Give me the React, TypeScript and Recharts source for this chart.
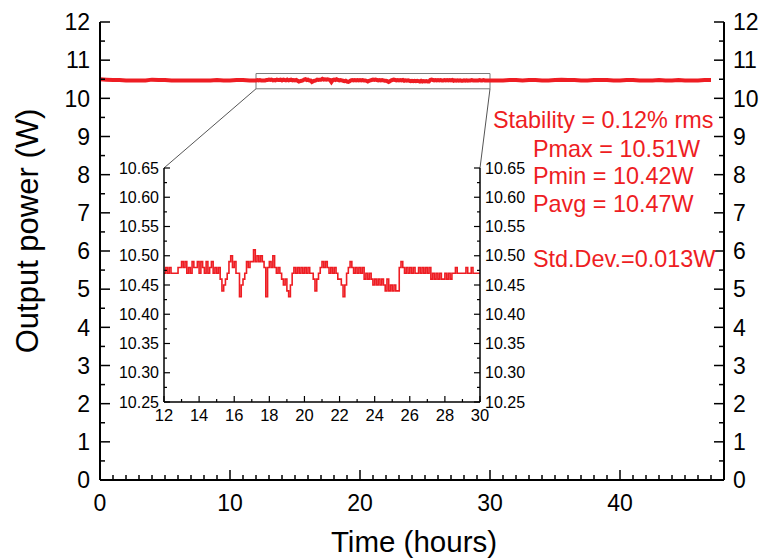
import React from 'react';
import { LineChart, Line, XAxis, YAxis, ReferenceArea } from 'recharts';

const FONT = '"Liberation Sans", Arial, Helvetica, sans-serif';
const RED = '#EE1D23';

// ---- data (hours, W) ----
const PRE_START = 0;
const PRE_STEP = 0.5;
const preValues = [
  10.50, 10.49, 10.48, 10.48, 10.47, 10.47, 10.47, 10.47, 10.49, 10.48, 10.48, 10.47,
  10.47, 10.47, 10.47, 10.47, 10.47, 10.47, 10.48, 10.47, 10.47, 10.48, 10.48, 10.47,
];

const INSET_START = 12;
const INSET_STEP = 0.1;
const insetValues = [
  10.47, 10.48, 10.47, 10.48, 10.47, 10.47, 10.47, 10.47, 10.48, 10.48, // 12
  10.49, 10.48, 10.49, 10.47, 10.48, 10.47, 10.49, 10.48, 10.48, 10.49, // 13
  10.47, 10.49, 10.48, 10.47, 10.49, 10.47, 10.48, 10.49, 10.47, 10.48, // 14
  10.47, 10.48, 10.46, 10.44, 10.45, 10.46, 10.47, 10.49, 10.50, 10.48, // 15
  10.49, 10.47, 10.47, 10.43, 10.45, 10.46, 10.47, 10.49, 10.48, 10.49, // 16
  10.49, 10.51, 10.49, 10.50, 10.49, 10.50, 10.49, 10.48, 10.43, 10.48, // 17
  10.49, 10.48, 10.50, 10.48, 10.47, 10.48, 10.47, 10.46, 10.45, 10.46, // 18
  10.44, 10.43, 10.45, 10.47, 10.48, 10.47, 10.48, 10.47, 10.48, 10.47, // 19
  10.48, 10.47, 10.48, 10.47, 10.47, 10.46, 10.44, 10.46, 10.47, 10.48, // 20
  10.49, 10.48, 10.49, 10.48, 10.47, 10.48, 10.47, 10.48, 10.47, 10.46, // 21
  10.46, 10.45, 10.43, 10.45, 10.47, 10.48, 10.49, 10.48, 10.47, 10.48, // 22
  10.47, 10.48, 10.47, 10.48, 10.46, 10.47, 10.46, 10.47, 10.46, 10.45, // 23
  10.46, 10.45, 10.46, 10.45, 10.46, 10.45, 10.44, 10.46, 10.44, 10.45, // 24
  10.44, 10.45, 10.44, 10.44, 10.48, 10.49, 10.48, 10.47, 10.48, 10.47, // 25
  10.48, 10.47, 10.48, 10.47, 10.47, 10.48, 10.47, 10.48, 10.47, 10.48, // 26
  10.47, 10.48, 10.46, 10.47, 10.46, 10.47, 10.46, 10.47, 10.46, 10.46, // 27
  10.47, 10.46, 10.47, 10.46, 10.47, 10.47, 10.48, 10.47, 10.47, 10.47, // 28
  10.47, 10.47, 10.48, 10.47, 10.47, 10.48, 10.47, 10.47, 10.47, 10.47, // 29
  10.47, // 30
];

const POST_START = 30.5;
const POST_STEP = 0.5;
const postValues = [
  10.47, 10.47, 10.48, 10.48, 10.47, 10.48, 10.48, 10.47, 10.47, 10.48, 10.49, 10.48,
  10.48, 10.47, 10.47, 10.48, 10.48, 10.48, 10.47, 10.47, 10.48, 10.48, 10.47, 10.47,
  10.47, 10.48, 10.47, 10.47, 10.48, 10.47, 10.47, 10.47, 10.48, 10.48,
];

// ---- axes ----
const MAIN_X_DOMAIN = [0, 48];
const MAIN_X_MAJOR = [0, 10, 20, 30, 40];
const MAIN_X_TICKS = Array.from({ length: 48 }, (_, i) => i);
const MAIN_Y_DOMAIN = [0, 12];
const MAIN_Y_MAJOR = [0, 1, 2, 3, 4, 5, 6, 7, 8, 9, 10, 11, 12];
const MAIN_Y_TICKS = Array.from({ length: 25 }, (_, i) => i * 0.5);

const INSET_X_DOMAIN = [12, 30];
const INSET_X_MAJOR = [12, 14, 16, 18, 20, 22, 24, 26, 28, 30];
const INSET_X_TICKS = Array.from({ length: 19 }, (_, i) => 12 + i);
const INSET_Y_DOMAIN = [10.25, 10.65];
const INSET_Y_MAJOR = [10.25, 10.3, 10.35, 10.4, 10.45, 10.5, 10.55, 10.6, 10.65];
const INSET_Y_TICKS = Array.from({ length: 17 }, (_, i) => +(10.25 + i * 0.025).toFixed(3));

const X_TITLE = 'Time (hours)';
const Y_TITLE = 'Output power (W)';
const ANNOTATIONS = [
  { text: 'Stability = 0.12% rms', x: 493, y: 128 },
  { text: 'Pmax = 10.51W', x: 533, y: 157 },
  { text: 'Pmin = 10.42W', x: 533, y: 184 },
  { text: 'Pavg = 10.47W', x: 533, y: 212 },
  { text: 'Std.Dev.=0.013W', x: 533, y: 267 },
];

const toSeries = (start: number, step: number, vals: number[]) =>
  vals.map((p, i) => ({ t: +(start + i * step).toFixed(2), p }));

const insetData = toSeries(INSET_START, INSET_STEP, insetValues);
const mainData = [
  ...toSeries(PRE_START, PRE_STEP, preValues),
  ...insetData,
  ...toSeries(POST_START, POST_STEP, postValues),
];

// ---- layout ----
const W = 760;
const H = 560;
const M_L = 100, M_R = 724, M_T = 22, M_B = 480;
const I_BOX = { left: 110, top: 150, width: 430, height: 290 };
const I_L = 164, I_R = 480, I_T = 168, I_B = 402;

const mainXpx = (v: number) => M_L + ((v - MAIN_X_DOMAIN[0]) / (MAIN_X_DOMAIN[1] - MAIN_X_DOMAIN[0])) * (M_R - M_L);
const mainYpx = (v: number) => M_B - ((v - MAIN_Y_DOMAIN[0]) / (MAIN_Y_DOMAIN[1] - MAIN_Y_DOMAIN[0])) * (M_B - M_T);

type TickCfg = {
  side: 'bottom' | 'top' | 'left' | 'right';
  majors: number[];
  majorLen: number;
  minorLen: number;
  fontSize: number;
  gap: number;
  showLabel: boolean;
  fmt: (v: number) => string;
  sw: number;
};

const makeTick = (cfg: TickCfg) => (props: any) => {
  const { x, y, payload } = props;
  const v = payload.value as number;
  const isMajor = cfg.majors.some((m) => Math.abs(m - v) < 1e-6);
  const len = isMajor ? cfg.majorLen : cfg.minorLen;
  const lineProps = { stroke: '#000', strokeWidth: cfg.sw };
  let line: any = null;
  let label: any = null;
  const textProps = { fontFamily: FONT, fontSize: cfg.fontSize, fill: '#000' };
  const lbl = isMajor && cfg.showLabel ? cfg.fmt(v) : null;
  switch (cfg.side) {
    case 'bottom':
      line = <line x1={x} y1={y} x2={x} y2={y - len} {...lineProps} />;
      if (lbl) label = <text x={x} y={y + cfg.gap} textAnchor="middle" {...textProps}>{lbl}</text>;
      break;
    case 'top':
      line = <line x1={x} y1={y} x2={x} y2={y + len} {...lineProps} />;
      break;
    case 'left':
      line = <line x1={x} y1={y} x2={x + len} y2={y} {...lineProps} />;
      if (lbl) label = <text x={x - cfg.gap} y={y + cfg.fontSize * 0.358} textAnchor="end" {...textProps}>{lbl}</text>;
      break;
    case 'right':
      line = <line x1={x} y1={y} x2={x - len} y2={y} {...lineProps} />;
      if (lbl) label = <text x={x + cfg.gap} y={y + cfg.fontSize * 0.358} textAnchor="start" {...textProps}>{lbl}</text>;
      break;
  }
  return (
    <g>
      {line}
      {label}
    </g>
  );
};

const intFmt = (v: number) => String(Math.round(v));
const dec2 = (v: number) => v.toFixed(2);

export default function App() {
  const mainAxisLine = { stroke: '#000', strokeWidth: 2 };
  const insetAxisLine = { stroke: '#000', strokeWidth: 1.5 };
  return (
    <div style={{ position: 'absolute', left: 0, top: 0, width: W, height: H, background: '#fff' }}>
      <div style={{ position: 'absolute', left: 0, top: 0 }}>
        <LineChart width={W} height={H} data={mainData} margin={{ top: M_T, right: 0, bottom: 0, left: 0 }}>
          <XAxis
            xAxisId="b"
            dataKey="t"
            type="number"
            domain={MAIN_X_DOMAIN}
            ticks={MAIN_X_TICKS}
            interval={0}
            height={H - M_B}
            tickSize={0}
            tickMargin={0}
            tickLine={false}
            axisLine={mainAxisLine}
            allowDataOverflow
            tick={makeTick({ side: 'bottom', majors: MAIN_X_MAJOR, majorLen: 10, minorLen: 5, fontSize: 23, gap: 31, showLabel: true, fmt: intFmt, sw: 1.5 })}
          />
          <XAxis
            xAxisId="t"
            orientation="top"
            dataKey="t"
            type="number"
            domain={MAIN_X_DOMAIN}
            ticks={MAIN_X_TICKS}
            interval={0}
            height={0}
            tickSize={0}
            tickMargin={0}
            tickLine={false}
            axisLine={mainAxisLine}
            allowDataOverflow
            tick={makeTick({ side: 'top', majors: MAIN_X_MAJOR, majorLen: 10, minorLen: 5, fontSize: 23, gap: 0, showLabel: false, fmt: intFmt, sw: 1.5 })}
          />
          <YAxis
            yAxisId="l"
            type="number"
            domain={MAIN_Y_DOMAIN}
            ticks={MAIN_Y_TICKS}
            interval={0}
            width={M_L}
            tickSize={0}
            tickMargin={0}
            tickLine={false}
            axisLine={mainAxisLine}
            allowDataOverflow
            tick={makeTick({ side: 'left', majors: MAIN_Y_MAJOR, majorLen: 10, minorLen: 5, fontSize: 23, gap: 10, showLabel: true, fmt: intFmt, sw: 1.5 })}
          />
          <YAxis
            yAxisId="r"
            orientation="right"
            type="number"
            domain={MAIN_Y_DOMAIN}
            ticks={MAIN_Y_TICKS}
            interval={0}
            width={W - M_R}
            tickSize={0}
            tickMargin={0}
            tickLine={false}
            axisLine={mainAxisLine}
            allowDataOverflow
            tick={makeTick({ side: 'right', majors: MAIN_Y_MAJOR, majorLen: 10, minorLen: 5, fontSize: 23, gap: 9, showLabel: true, fmt: intFmt, sw: 1.5 })}
          />
          <ReferenceArea
            xAxisId="b"
            yAxisId="l"
            x1={INSET_X_DOMAIN[0]}
            x2={INSET_X_DOMAIN[1]}
            y1={INSET_Y_DOMAIN[0]}
            y2={INSET_Y_DOMAIN[1]}
            fill="none"
            fillOpacity={0}
            stroke="#7a7a7a"
            strokeWidth={1}
          />
          <Line
            xAxisId="b"
            yAxisId="l"
            type="linear"
            dataKey="p"
            stroke={RED}
            strokeWidth={4}
            dot={false}
            isAnimationActive={false}
          />
        </LineChart>
      </div>
      <svg width={W} height={H} style={{ position: 'absolute', left: 0, top: 0, pointerEvents: 'none' }}>
        <line x1={mainXpx(INSET_X_DOMAIN[0])} y1={mainYpx(INSET_Y_DOMAIN[0])} x2={I_L} y2={I_T} stroke="#555" strokeWidth={1} />
        <line x1={mainXpx(INSET_X_DOMAIN[1])} y1={mainYpx(INSET_Y_DOMAIN[0])} x2={I_R} y2={I_T} stroke="#555" strokeWidth={1} />
        <text
          x={38}
          y={231}
          transform="rotate(-90 38 231)"
          textAnchor="middle"
          fontFamily={FONT}
          fontSize={31}
          fill="#000"
        >
          {Y_TITLE}
        </text>
        <text x={(M_L + M_R) / 2 + 2} y={552} textAnchor="middle" fontFamily={FONT} fontSize={29.5} fill="#000">
          {X_TITLE}
        </text>
        {ANNOTATIONS.map((a) => (
          <text key={a.text} x={a.x} y={a.y} fontFamily={FONT} fontSize={23.4} fill={RED}>
            {a.text}
          </text>
        ))}
      </svg>
      <div style={{ position: 'absolute', left: I_BOX.left, top: I_BOX.top }}>
        <LineChart
          width={I_BOX.width}
          height={I_BOX.height}
          data={insetData}
          margin={{ top: I_T - I_BOX.top, right: 0, bottom: 0, left: 0 }}
        >
          <XAxis
            xAxisId="b"
            dataKey="t"
            type="number"
            domain={INSET_X_DOMAIN}
            ticks={INSET_X_TICKS}
            interval={0}
            height={I_BOX.top + I_BOX.height - I_B}
            tickSize={0}
            tickMargin={0}
            tickLine={false}
            axisLine={insetAxisLine}
            allowDataOverflow
            tick={makeTick({ side: 'bottom', majors: INSET_X_MAJOR, majorLen: 6, minorLen: 3, fontSize: 16.5, gap: 19, showLabel: true, fmt: intFmt, sw: 1.2 })}
          />
          <XAxis
            xAxisId="t"
            orientation="top"
            dataKey="t"
            type="number"
            domain={INSET_X_DOMAIN}
            ticks={INSET_X_TICKS}
            interval={0}
            height={0}
            tickSize={0}
            tickMargin={0}
            tickLine={false}
            axisLine={insetAxisLine}
            allowDataOverflow
            tick={makeTick({ side: 'top', majors: INSET_X_MAJOR, majorLen: 6, minorLen: 3, fontSize: 16, gap: 0, showLabel: false, fmt: intFmt, sw: 1.2 })}
          />
          <YAxis
            yAxisId="l"
            type="number"
            domain={INSET_Y_DOMAIN}
            ticks={INSET_Y_TICKS}
            interval={0}
            width={I_L - I_BOX.left}
            tickSize={0}
            tickMargin={0}
            tickLine={false}
            axisLine={insetAxisLine}
            allowDataOverflow
            tick={makeTick({ side: 'left', majors: INSET_Y_MAJOR, majorLen: 6, minorLen: 3, fontSize: 16, gap: 5, showLabel: true, fmt: dec2, sw: 1.2 })}
          />
          <YAxis
            yAxisId="r"
            orientation="right"
            type="number"
            domain={INSET_Y_DOMAIN}
            ticks={INSET_Y_TICKS}
            interval={0}
            width={I_BOX.left + I_BOX.width - I_R}
            tickSize={0}
            tickMargin={0}
            tickLine={false}
            axisLine={insetAxisLine}
            allowDataOverflow
            tick={makeTick({ side: 'right', majors: INSET_Y_MAJOR, majorLen: 6, minorLen: 3, fontSize: 16, gap: 5, showLabel: true, fmt: dec2, sw: 1.2 })}
          />
          <Line
            xAxisId="b"
            yAxisId="l"
            type="stepAfter"
            dataKey="p"
            stroke={RED}
            strokeWidth={1.6}
            dot={false}
            isAnimationActive={false}
          />
        </LineChart>
      </div>
    </div>
  );
}
